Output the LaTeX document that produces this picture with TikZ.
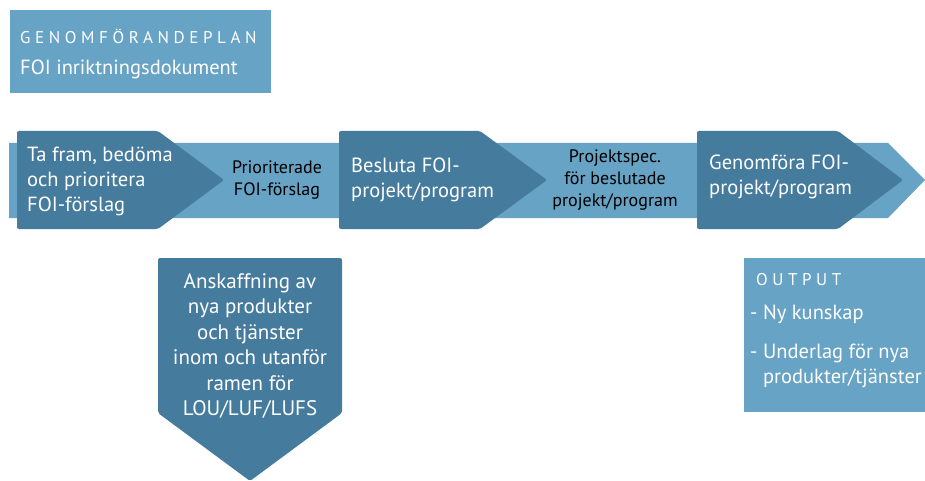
\documentclass[tikz,border=0pt]{standalone}
\usepackage{fontspec}
\setmainfont{PT Sans}
\usetikzlibrary{positioning}

\definecolor{foidark}{RGB}{69,123,157}
\definecolor{foilight}{RGB}{103,163,197}

\begin{document}
\begin{tikzpicture}[x=1pt, y=-1pt, inner sep=0pt,
  panel/.style={fill=foilight},
  stepbox/.style={fill=foidark, rounded corners=2pt},
  steptxt/.style={text=white, align=left, anchor=west, font=\fontsize{20.5}{25}\selectfont},
  flowtxt/.style={text=black, align=center, font=\fontsize{18}{22}\selectfont},
  spaced/.style={font=\fontsize{17}{20}\selectfont\addfontfeatures{LetterSpace=27}}]
\useasboundingbox (0,0) rectangle (925,481);

% header panel
\fill[panel] (10,10) rectangle (271,93);
\node[spaced, text=white, anchor=west] (plan) at (20,36) {GENOMFÖRANDEPLAN};
\node[steptxt] (doc) at (20,69) {FOI inriktningsdokument};

% light band with arrow tip
\fill[panel] (9,143) -- (888,143) -- (925,180) -- (888,218) -- (9,218) -- cycle;

% the three process steps
\fill[stepbox] (17,131) -- (158,131) -- (224,180) -- (158,229) -- (17,229) -- cycle;
\fill[stepbox] (339,131) -- (480,131) -- (547,180) -- (480,229) -- (339,229) -- cycle;
\fill[stepbox] (697,131) -- (838,131) -- (903,180) -- (838,229) -- (697,229) -- cycle;

\node[steptxt] (prepare) at (27,181) {Ta fram, bedöma\\och prioritera\\FOI-förslag};
\node[steptxt] (decide) at (351,180) {Besluta FOI-\\projekt/program};
\node[steptxt] (execute) at (709,177) {Genomföra FOI-\\projekt/program};

% band labels between steps
\node[flowtxt] (prio) at (277,180) {Prioriterade\\FOI-förslag};
\node[flowtxt] (spec) at (615,180) {Projektspec.\\för beslutade\\projekt/program};

% procurement arrow pointing down
\fill[stepbox] (158,258) -- (342,258) -- (342,413) -- (250,481) -- (158,413) -- cycle;
\node[steptxt, anchor=center, align=center, font=\fontsize{21}{25.5}\selectfont] (buy) at (250,346)
  {Anskaffning av\\nya produkter\\och tjänster\\inom och utanför\\ramen för\\LOU/LUF/LUFS};

% output panel
\fill[panel] (744,258) rectangle (925,412);
\node[spaced, text=white, anchor=west] (out) at (756,280) {OUTPUT};
\node[steptxt] (know) at (750,314) {- Ny kunskap};
\node[steptxt] (base) at (750,366) {- Underlag för nya\\\phantom{- }produkter/tjänster};
\end{tikzpicture}
\end{document}
